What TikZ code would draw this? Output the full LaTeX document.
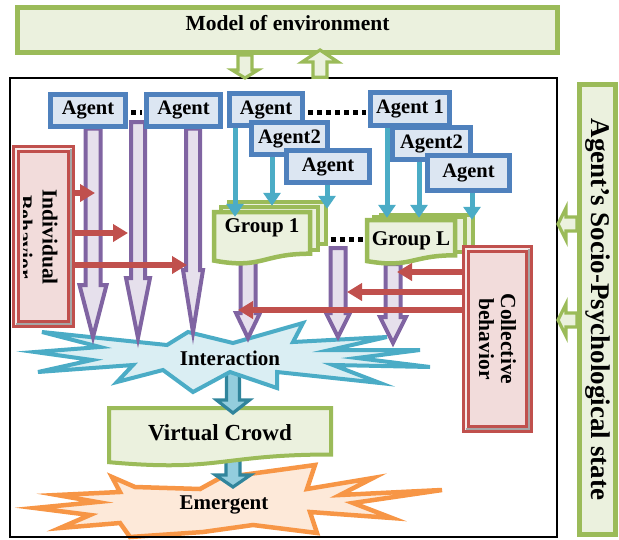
\documentclass[tikz,border=0pt]{standalone}
\usepackage{fontspec}
\setmainfont{Liberation Serif}
\usetikzlibrary{positioning,calc,arrows.meta}
\definecolor{grnline}{HTML}{9BBB59}
\definecolor{grnfill}{HTML}{EBF1DE}
\definecolor{bluline}{HTML}{4F81BD}
\definecolor{blufill}{HTML}{DCE6F2}
\definecolor{redline}{HTML}{C0504D}
\definecolor{redfill}{HTML}{F2DCDB}
\definecolor{purline}{HTML}{8064A2}
\definecolor{purfill}{HTML}{E6E0EC}
\definecolor{cyaline}{HTML}{4BACC6}
\definecolor{cyafill}{HTML}{DAEEF3}
\definecolor{tealine}{HTML}{31859C}
\definecolor{teafill}{HTML}{93CDDD}
\definecolor{orgline}{HTML}{F79646}
\definecolor{orgfill}{HTML}{FDE9D9}
\pgfdeclarelayer{back}
\pgfdeclarelayer{mid}
\pgfsetlayers{back,mid,main}
\newcommand{\vhollow}[6]{\draw[#1] let \p1=(#2), \p2=(#3) in
    (\x1-#4,\y1) -- (\x1-#4,\y2+#6) -- (\x1-#5,\y2+#6) -- (\x1,\y2)
    -- (\x1+#5,\y2+#6) -- (\x1+#4,\y2+#6) -- (\x1+#4,\y1) -- cycle;}
\newcommand{\hhollow}[6]{\draw[#1] let \p1=(#2), \p2=(#3) in
    (\x1,\y1+#4) -- (\x2+#6,\y1+#4) -- (\x2+#6,\y1+#5) -- (\x2,\y1)
    -- (\x2+#6,\y1-#5) -- (\x2+#6,\y1-#4) -- (\x1,\y1-#4) -- cycle;}
\newcommand{\docshape}[5]{\draw[#1] (#2,#3) -- (#2+#4,#3) -- (#2+#4,#3+0.802*#5)
    .. controls (#2+0.5*#4,#3+0.802*#5) and (#2+0.5*#4,#3+1.107*#5) .. (#2,#3+0.934*#5) -- cycle;}

\begin{document}
\begin{tikzpicture}[x=1pt,y=-1pt]
                    \tikzstyle{every node}=[inner sep=0,font=\bfseries\fontsize{21}{22}\selectfont]
                    \tikzstyle{note}=[draw=none,fill=none]
                    \tikzstyle{greenbox}=[draw=grnline,fill=grnfill,line width=5]
                    \tikzstyle{agent}=[draw=bluline,fill=blufill,line width=5,minimum height=32,font=\bfseries\fontsize{20.5}{22}\selectfont]
                    \tikzstyle{bevelbox}=[draw=redline,double=redfill!60!white,double distance=1.5,line width=3.6,fill=redfill,rotate=-90,align=center,font=\bfseries\fontsize{21.5}{22}\selectfont]
                    \tikzstyle{doc}=[draw=grnline,fill=grnfill,line width=4.5]
                    \tikzstyle{dotline}=[line width=5,dash pattern=on 5pt off 4pt]
                    \tikzstyle{cyanarr}=[draw=cyaline,line width=5,-{Triangle[width=17pt,length=13pt]}]
                    \tikzstyle{redarr}=[draw=redline,line width=6,-{Triangle[width=17pt,length=15pt]}]
                    \tikzstyle{purarr}=[draw=purline,fill=purfill,line width=4]
                    \tikzstyle{tealarr}=[draw=tealine,fill=teafill,line width=3.2]
                    \tikzstyle{grnarr}=[draw=grnline,fill=grnfill,line width=3.2]
                    \tikzstyle{cyastar}=[draw=cyaline,fill=cyafill,line width=4]
                    \tikzstyle{orgstar}=[draw=orgline,fill=orgfill,line width=4.5]
                    {
                        \useasboundingbox (0,0) rectangle (619,539);

                        \node[greenbox,minimum width=540,minimum height=45,text depth=14pt,font=\bfseries\fontsize{21.5}{22}\selectfont] (env) at (287.5,30) {Model of environment};
                        \node[draw,line width=1.5,minimum width=547,minimum height=459] (frame) at (283.5,307.5) {};
                        \node[greenbox,rotate=-90,minimum width=450,minimum height=36,font=\bfseries\fontsize{27}{28}\selectfont] (soc) at (597.5,309.5) {Agent's Socio-Psychological state};

                        \coordinate (ed) at (245,78);
                        \coordinate (eu) at (320,50);
                        \coordinate (sa1) at (558,224);
                        \coordinate (sa2) at (558,320);
                        \vhollow{grnarr}{env.south -| ed}{ed}{7}{13}{8}
                        \vhollow{grnarr}{frame.north -| eu}{eu}{7}{18}{-12}
                        \hhollow{grnarr}{soc.south |- sa1}{sa1}{7}{16}{8}
                        \hhollow{grnarr}{soc.south |- sa2}{sa2}{7}{16}{8}

                        \node[agent,minimum width=75] (a1) at (88,110) {Agent};
                        \node[agent,minimum width=74] (a2) at (183.5,110) {Agent};
                        \node[agent,minimum width=73] (a3) at (266,109.5) {Agent};
                        \node[agent,minimum width=76] (a4) at (289.5,138.5) {Agent2};
                        \node[agent,minimum width=83] (a5) at (328,166.5) {Agent};
                        \node[agent,minimum width=79,minimum height=33] (a6) at (410,109) {Agent 1};
                        \node[agent,minimum width=78] (a7) at (431.5,143.5) {Agent2};
                        \node[agent,minimum width=82,minimum height=35] (a8) at (468.5,173) {Agent};

                        \draw[dotline,shorten <=3pt,shorten >=2pt] (a1.east |- 0,112) -- (a2.west |- 0,112);
                        \draw[dotline,shorten <=3pt,shorten >=2pt] (a3.east |- 0,112) -- (a6.west |- 0,112);

                        \draw[doc] (229,202) rectangle (326,244);
                        \draw[doc] (221,207) rectangle (318,250);
                        \docshape{doc}{214}{212}{96}{52}
                        \node[note,minimum width=100,minimum height=36] (g1) at (262,228) {Group 1};
                        \draw[doc] (381,215) rectangle (473,248);
                        \draw[doc] (374,217) rectangle (465,252);
                        \docshape{doc}{367}{220}{88}{44}
                        \node[note,minimum width=92,minimum height=46] (gL) at (411,241) {Group L};
                        \draw[dotline,shorten <=19pt,shorten >=2pt] (g1.east |- 0,239) -- (gL.west |- 0,239);

                        \node[bevelbox,minimum width=175,minimum height=55] (ib) at (43.5,236.5) {};
                        \draw[gray!70,line width=1.5] (71,149) -- (71,324) -- (16,324);
                        \begin{scope}
                            \clip (23,151) rectangle (69,322);
                            \node[note,rotate=-90,align=center,font=\bfseries\fontsize{21.5}{25}\selectfont] (ibt) at (37.5,237) {Individual\\Behavior};
                        \end{scope}
                        \node[bevelbox,minimum width=180,minimum height=63] (cb) at (497.5,339) {Collective\\behavior};
                        \draw[gray!70,line width=1.5] (529,249) -- (529,429) -- (466,429);

                        \draw[cyanarr,shorten >=-7pt] (a3.south -| 235,0) -- (g1.north -| 235,0);
                        \draw[cyanarr,shorten >=4pt] (a4.south -| 272,0) -- (g1.north -| 272,0);
                        \draw[cyanarr,shorten >=1pt] (a5.south -| 327,0) -- (g1.north -| 327,0);
                        \draw[cyanarr] (a6.south -| 387,0) -- (gL.north -| 387,0);
                        \draw[cyanarr] (a7.south -| 419,0) -- (gL.north -| 419,0);
                        \draw[cyanarr,shorten >=-2pt] (a8.south -| 472,0) -- (gL.north -| 472,0);

                        \coordinate (ps2) at (138,122);
                        \coordinate (ps5) at (338,248);
                        \coordinate (pt1) at (93,337);
                        \coordinate (pt2) at (138,338);
                        \coordinate (pt3) at (193,332);
                        \coordinate (pt4) at (248,338);
                        \coordinate (pt5) at (338,337);
                        \coordinate (pt6) at (393,343);
                        \begin{pgfonlayer}{mid}
                            \vhollow{purarr}{a1.south -| pt1}{pt1}{7.5}{13.5}{52}
                            \vhollow{purarr}{ps2}{pt2}{7}{12}{60}
                            \vhollow{purarr}{a2.south -| pt3}{pt3}{7}{10}{62}
                            \vhollow{purarr}{g1.south -| pt4}{pt4}{7.5}{12}{25}
                            \vhollow{purarr}{ps5}{pt5}{7.5}{12}{24}
                            \vhollow{purarr}{gL.south -| pt6}{pt6}{7.5}{13}{26}
                        \end{pgfonlayer}

                        \coordinate (rt1) at (95,193);
                        \coordinate (rt2) at (128,233);
                        \coordinate (rt3) at (187,265);
                        \coordinate (rt4) at (397,272);
                        \coordinate (rt5) at (347,292);
                        \coordinate (rt6) at (238,310);
                        \draw[redarr] (ib.north |- rt1) -- (rt1);
                        \draw[redarr] (ib.north |- rt2) -- (rt2);
                        \draw[redarr] (ib.north |- rt3) -- (rt3);
                        \draw[redarr] (cb.south |- rt4) -- (rt4);
                        \draw[redarr] (cb.south |- rt5) -- (rt5);
                        \draw[redarr] (cb.south |- rt6) -- (rt6);

                        \node[note] (inter) at (230,358) {Interaction};
                        \node[note,font=\bfseries\fontsize{23}{24}\selectfont] (vc) at (220,433) {Virtual Crowd};
                        \node[note] (em) at (224,505) {Emergent};
                        \coordinate (tt1) at (233,413);
                        \coordinate (tt2) at (233,487);
                        \begin{pgfonlayer}{back}
                            \draw[orgstar] (35,508) -- (97,502) -- (57,495) -- (120,492) -- (112,477) -- (135,487)
                                -- (200,489) -- (220,478) -- (315,465) -- (307,489) -- (373,478) -- (340,495)
                                -- (442,490) -- (353,503) -- (392,518) -- (310,512) -- (317,533) -- (253,525)
                                -- (203,532) -- (130,537) -- (120,523) -- (60,528) -- (90,515) -- cycle;
                            \vhollow{tealarr}{vc -| tt2}{tt2}{7}{17.5}{12}
                            \docshape{doc,line width=4}{109}{408}{222}{58}
                            \vhollow{tealarr}{inter -| tt1}{tt1}{6.5}{16.5}{13}
                            \draw[cyastar] (35,352) -- (100,347) -- (42,332) -- (167,345) -- (188,332) -- (233,343)
                                -- (303,323) -- (293,342) -- (387,337) -- (330,350) -- (420,350) -- (357,358)
                                -- (430,367) -- (333,365) -- (380,383) -- (277,372) -- (277,388) -- (230,372)
                                -- (193,392) -- (163,370) -- (117,382) -- (133,365) -- (38,372) -- (92,360) -- cycle;
                        \end{pgfonlayer}
                    }
\end{tikzpicture}
\end{document}
